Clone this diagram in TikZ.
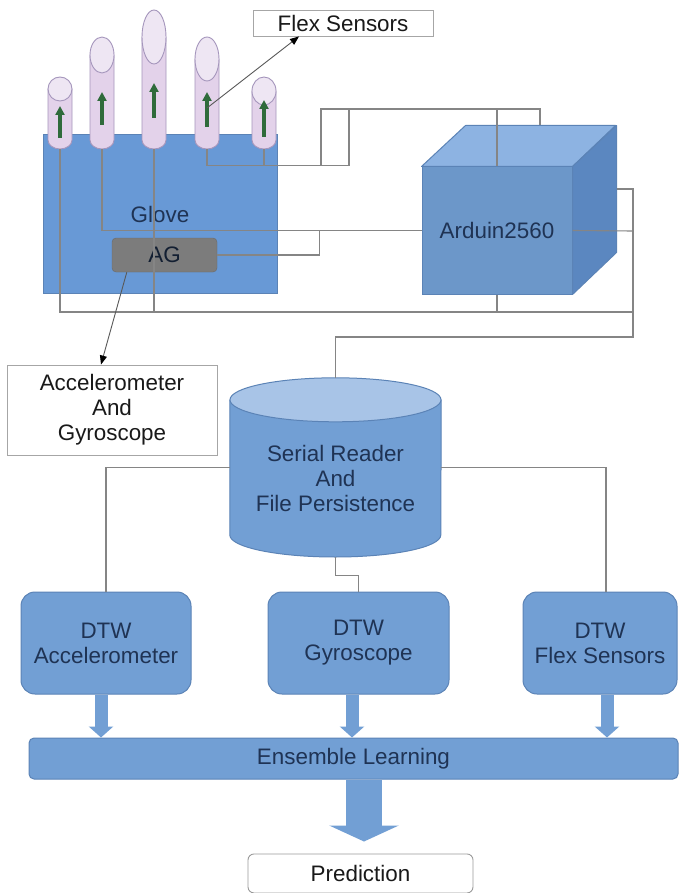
\documentclass[tikz,border=0pt]{standalone}
\usepackage{fontspec}
\setmainfont{Liberation Sans}
\usepackage{xcolor}
\usepackage{tikz}
\usetikzlibrary{arrows.meta,positioning,shapes.geometric,calc}

\definecolor{boxblue}{HTML}{729FD4}
\definecolor{boxedge}{HTML}{5B83B6}
\definecolor{gloveblue}{HTML}{6899D6}
\definecolor{cubetopc}{HTML}{8DB3E2}
\definecolor{cubeside}{HTML}{5B87C0}
\definecolor{lidblue}{HTML}{A8C4E7}
\definecolor{navytext}{HTML}{1F3354}
\definecolor{wiregray}{HTML}{858585}
\definecolor{fingerpink}{HTML}{E3D2EA}
\definecolor{fingercap}{HTML}{EEE6F3}
\definecolor{fingeredge}{HTML}{A596BC}
\definecolor{flexgreen}{HTML}{2F6B3B}
\definecolor{chipgray}{HTML}{7C7C7C}

\tikzset{
  glovebox/.style={
    rectangle, draw=boxedge, fill=gloveblue, line width=1pt,
    minimum width=234pt, minimum height=158pt, text=navytext
  },
  chip/.style={
    rectangle, rounded corners=4pt, draw=chipgray!85!black, fill=chipgray,
    minimum width=105pt, minimum height=34pt, text=navytext!60!black
  },
  notebox/.style={
    rectangle, draw=black!35, fill=white, line width=0.9pt,
    align=center, inner sep=2pt, text=black!90
  },
  predbox/.style={
    rectangle, rounded corners=6pt, draw=black!40, fill=white, line width=0.9pt,
    minimum width=225pt, minimum height=39pt, text=black!90
  },
  fingerspan/.style={rectangle, draw=none, minimum width=24pt, inner sep=0pt},
  fingerbody/.style={draw=fingeredge, fill=fingerpink, line width=0.9pt},
  fingertip/.style={draw=fingeredge, fill=fingercap, line width=0.9pt},
  flexarrow/.style={draw=flexgreen, line width=3.5pt, -{Triangle[width=9pt,length=9pt]}},
  cubefront/.style={
    rectangle, draw=boxedge, fill=boxblue!95!black, line width=1pt,
    minimum width=150pt, minimum height=127pt, text=navytext
  },
  cubeface/.style={draw=boxedge, line width=1pt, line join=round},
  drum/.style={rectangle, draw=none, minimum width=211pt, minimum height=179pt},
  drumbody/.style={draw=boxedge, fill=boxblue, line width=1pt},
  drumlid/.style={draw=boxedge, fill=lidblue, line width=1pt},
  dtwbox/.style={
    rectangle, rounded corners=14pt, draw=boxedge, fill=boxblue, line width=1pt,
    minimum width=170pt, minimum height=102pt, align=center, text=navytext
  },
  ensbox/.style={
    rectangle, rounded corners=5pt, draw=boxedge, fill=boxblue, line width=1pt,
    minimum width=649pt, minimum height=41pt, text=navytext
  },
  wire/.style={draw=wiregray, line width=1.1pt},
  pointer/.style={draw=black!65, line width=0.9pt, -{Triangle[width=7pt,length=9pt,color=black]}},
  blockarrow/.style={draw=boxblue, line width=13pt, -{Triangle[width=24pt,length=11pt]}},
  bigarrow/.style={draw=boxblue, line width=36pt, -{Triangle[width=69pt,length=16pt]}, shorten >=12pt},
}

\begin{document}
\begin{tikzpicture}[x=1pt, y=-1pt, font=\fontsize{22.4}{25}\selectfont]

  \path[use as bounding box, fill=white] (0,0) rectangle (680,893);

  % Glove with its five sensor fingers
  \node[notebox, minimum width=180pt, minimum height=26pt] (flexlbl) at (343,23) {Flex Sensors};
  \node[glovebox] (glove) at (160,214) {Glove};

  \foreach \n/\cx/\ft/\ry/\ab/\at in {f1/60/77/12/138/106, f2/102/37/18/125/92,
      f3/154/10/27/118/83, f4/207/37/22/127/92, f5/264/77/14/137/100} {
    \node[fingerspan, minimum height={(149-\ft)*1pt}] (\n) at (\cx,{(\ft+149)/2}) {};
    \filldraw[fingerbody] (\cx-12,\ft+\ry) -- (\cx-12,140)
      arc[start angle=180, end angle=0, x radius=12, y radius=9] -- (\cx+12,\ft+\ry) -- cycle;
    \filldraw[fingertip] (\cx,\ft+\ry) ellipse[x radius=12, y radius=\ry];
    \draw[flexarrow] (\cx,\ab) -- (\cx,\at);
  }

  \node[chip] (ag) at (164.5,255) {AG};
  \node[notebox, minimum width=210pt, minimum height=90pt] (accgyro) at (112,410)
        {Accelerometer\\And\\Gyroscope};

  % Board as a cube
  \node[cubefront] (arduino) at (497,230.5) {Arduin2560};
  \filldraw[cubeface, fill=cubetopc] (arduino.north west) -- ++(44,-41) -- ++(150,0)
    -- (arduino.north east) -- cycle;
  \filldraw[cubeface, fill=cubeside] (arduino.north east) -- ++(44,-41) -- ++(0,127)
    -- (arduino.south east) -- cycle;
  \coordinate (cubeback) at ([shift={(43,-41)}]arduino.north);
  \coordinate (cubeedge) at ([shift={(44,-41)}]arduino.east);

  % Reader as a drum
  \node[drum] (serial) at (335.5,467.5) {};
  \filldraw[drumbody] ($(serial.west)+(0,-67.5)$) -- ($(serial.west)+(0,67.5)$)
    arc[start angle=180, end angle=0, x radius=105.5, y radius=22] -- ($(serial.east)+(0,-67.5)$) -- cycle;
  \filldraw[drumlid] ($(serial.north)+(0,22)$) ellipse[x radius=105.5, y radius=22];
  \node[text=navytext, align=center] (serialtxt) at ([yshift=-11pt]serial.center)
        {Serial Reader\\And\\File Persistence};

  % Matching and learning
  \node[dtwbox] (dtwacc) at (106,643) {DTW\\Accelerometer};
  \node[dtwbox, minimum width=181pt] (dtwgyr) at (358.5,643) {DTW\\Gyroscope};
  \node[dtwbox, minimum width=154pt] (dtwflex) at (600,643) {DTW\\Flex Sensors};
  \node[ensbox] (ens) at (353.5,758.5) {Ensemble Learning};
  \node[predbox, below=74pt of ens, xshift=7pt] (pred) {Prediction};

  % Wiring
  \draw[wire] (f1.south) -- (f1.south |- 0,312) -- (633,312);
  \draw[wire] (f3.south) -- (f3.south |- 0,312);
  \draw[wire] (arduino.south) -- (arduino.south |- 0,312);
  \draw[wire] (f2.south) |- (arduino.west);
  \draw[wire] (ag.east) -- ++(102,0) |- (arduino.west);
  \draw[wire] (f4.south) -- ++(0,16) -| (321,109) -| (arduino.north);
  \draw[wire] (f5.south) -- ++(0,16) -| (349,109) -| (cubeback);
  \draw[wire] (arduino.east) -- (633,231);
  \draw[wire] (cubeedge |- 0,189) -- (633,189) -- (633,337) -- (serial.north |- 0,337) -- (serial.north);

  \draw[wire] (serial.west) -| (dtwacc.north);
  \draw[wire] (serial.east) -| ([xshift=6pt]dtwflex.north);
  \draw[wire] (serial.south) -- ++(0,18) -| (dtwgyr.north);

  % Labels
  \draw[pointer] ([xshift=15pt]ag.south west) -- ([xshift=-11pt]accgyro.north);
  \draw[pointer] ([yshift=-15pt]f4.center) -- ([xshift=-44pt]flexlbl.south);

  % Data flow
  \draw[blockarrow] ([xshift=-5pt]dtwacc.south) -- ([xshift=-5pt]dtwacc.south |- ens.north);
  \draw[blockarrow] ([xshift=-6.5pt]dtwgyr.south) -- ([xshift=-6.5pt]dtwgyr.south |- ens.north);
  \draw[blockarrow] ([xshift=7pt]dtwflex.south) -- ([xshift=7pt]dtwflex.south |- ens.north);
  \draw[bigarrow] ([xshift=10.5pt]ens.south) -- ([xshift=10.5pt]ens.south |- pred.north);

\end{tikzpicture}
\end{document}
